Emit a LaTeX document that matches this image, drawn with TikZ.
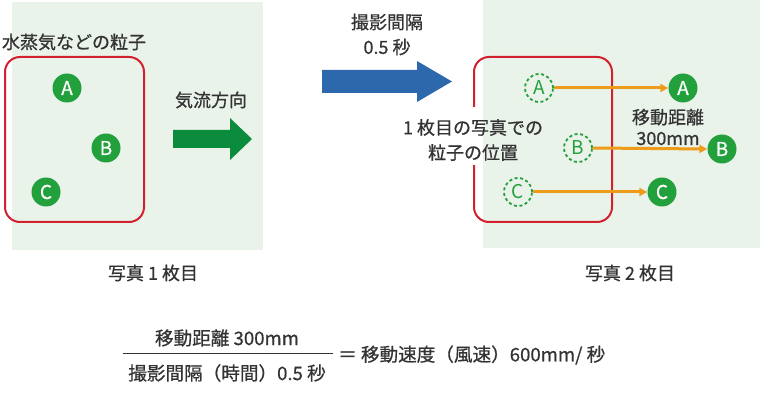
\documentclass[tikz,border=0pt]{standalone}
\usepackage{fontspec}
\setmainfont{Noto Sans CJK JP}
\newfontfamily\medfont{Noto Sans CJK JP}[FakeBold=0.7]
\usetikzlibrary{arrows.meta}
\definecolor{panelbg}{HTML}{EAF3EA}
\definecolor{boxred}{HTML}{D2202F}
\definecolor{pgreen}{HTML}{22A03C}
\definecolor{flowgreen}{HTML}{0A8C3C}
\definecolor{stepblue}{HTML}{2E68AC}
\definecolor{movorange}{HTML}{EF9B1A}
\definecolor{txt}{HTML}{333333}
\tikzset{
  lbl/.style={text=txt, font=\medfont\fontsize{18}{21}\selectfont, inner sep=0pt, align=center},
  redbox/.style={draw=boxred, line width=2pt, rounded corners=15pt},
  solidp/.style={circle, fill=pgreen, text=white, minimum size=29pt, inner sep=0pt, font=\medfont\fontsize{19}{20}\selectfont},
  dashp/.style={circle, draw=pgreen, line width=1.8pt, dash pattern=on 3pt off 2.6pt, text=pgreen, minimum size=28pt, inner sep=0pt, font=\fontsize{19}{20}\selectfont},
  movarrow/.style={draw=movorange, line width=3pt, -{Triangle[length=8pt,width=8pt]}}
}
\begin{document}
\begin{tikzpicture}[x=1pt,y=-1pt]
\useasboundingbox (0,0) rectangle (760,403);
% panels
\fill[panelbg] (12,2) rectangle (263,250);
\fill[panelbg] (483,0) rectangle (760,248);
% red boxes
\draw[redbox] (5,57) rectangle (144,222);
\draw[redbox] (474,57) rectangle (612,222);
\draw[white, line width=3pt] (474,107) -- (474,165);
% left particles
\node[solidp] (lA) at (67,88) {A};
\node[solidp] (lB) at (106,148) {B};
\node[solidp] (lC) at (46,192) {C};
\node[lbl] (title) at (74,42) {水蒸気などの粒子};
% airflow arrow
\node[lbl] (flow) at (211,100) {気流方向};
\fill[flowgreen] (173,130) -- (230,130) -- (230,118) -- (252,139) -- (230,160) -- (230,148) -- (173,148) -- cycle;
% interval arrow
\node[lbl] (intv) at (387,22) {撮影間隔};
\node[lbl] (sec) at (387,47) {0.5 秒};
\fill[stepblue] (322,70) -- (417,70) -- (417,61) -- (452,81.5) -- (417,102) -- (417,93) -- (322,93) -- cycle;
% right particles
\node[dashp] (dA) at (539,88) {A};
\node[dashp] (dB) at (578,148) {B};
\node[dashp] (dC) at (518,192) {C};
\node[solidp] (sA) at (683,88) {A};
\node[solidp] (sB) at (722,149) {B};
\node[solidp] (sC) at (662,192) {C};
\draw[movarrow] (dA.east) -- (sA.west);
\draw[movarrow] (dB.east) -- (sB.west);
\draw[movarrow] (dC.east) -- (sC.west);
\node[lbl] (first) at (473,140) {1 枚目の写真での\\[4pt]粒子の位置};
\node[lbl] (dist) at (668,127) {移動距離\\300mm};
% captions
\node[lbl] (cap1) at (153,273) {写真 1 枚目};
\node[lbl] (cap2) at (630,273) {写真 2 枚目};
% formula
\node[lbl, font=\medfont\fontsize{18.6}{21}\selectfont] (num) at (227,338) {移動距離 300mm};
\node[lbl, font=\medfont\fontsize{18.6}{21}\selectfont] (den) at (227,373) {撮影間隔（時間）0.5 秒};
\draw[txt, line width=0.7pt] (123,353) -- (333,353);
\node[lbl, anchor=west, font=\medfont\fontsize{18.6}{21}\selectfont] (res) at (338,355) {＝ 移動速度（風速）600mm/ 秒};
\end{tikzpicture}
\end{document}
